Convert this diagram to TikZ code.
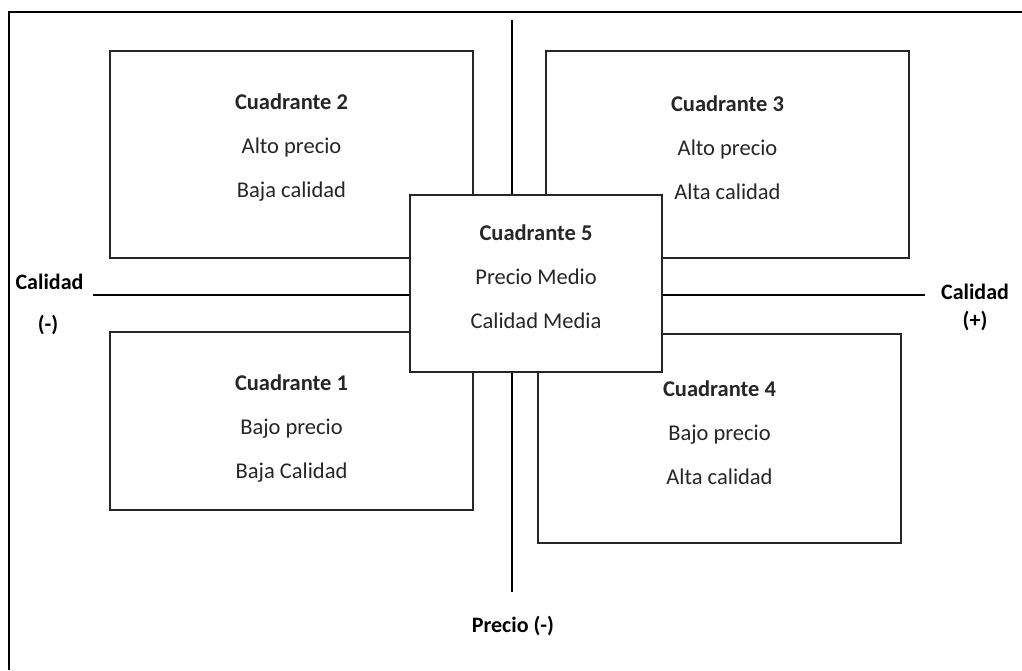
\documentclass[tikz,border=0pt]{standalone}
\usepackage{fontspec}
\setmainfont{Carlito}
\usetikzlibrary{positioning}

\begin{document}
\begin{tikzpicture}[x=1pt,y=-1pt,
    quad/.style={draw=black!85, line width=1.2pt, fill=white, inner sep=0pt},
    quadtext/.style={align=center, inner sep=0pt, text=black!85, font=\fontsize{22.5}{44}\selectfont},
    axisline/.style={line width=2.9pt},
    lbl/.style={font=\fontsize{22}{26}\selectfont\bfseries, inner sep=0pt}
]
\useasboundingbox (0,0) rectangle (1022,670);
% frame
\draw[line width=1.5pt] (1022,12) -- (9,12) -- (9,670);

% axes
\coordinate (ytop) at (512,20);
\coordinate (ybot) at (512,592);
\coordinate (xleft) at (93,295);
\coordinate (xright) at (925,295);
\draw[axisline] (ytop) -- (ybot);
\draw[axisline] (xleft) -- (xright);

% quadrants
\node[quad, minimum width=363pt, minimum height=207pt] (q2) at (291.5,154.5) {};
\node[quadtext] (t2) at (291.5,148) {\textbf{Cuadrante 2}\\Alto precio\\Baja calidad};
\node[quad, minimum width=363pt, minimum height=207pt] (q3) at (727.5,154.5) {};
\node[quadtext] (t3) at (727.5,148) {\textbf{Cuadrante 3}\\Alto precio\\Alta calidad};
\node[quad, minimum width=363pt, minimum height=178pt] (q1) at (291.5,421) {};
\node[quadtext] (t1) at (291.5,429) {\textbf{Cuadrante 1}\\Bajo precio\\Baja Calidad};
\node[quad, minimum width=363pt, minimum height=209pt] (q4) at (719.5,438.5) {};
\node[quadtext] (t4) at (719.5,433) {\textbf{Cuadrante 4}\\Bajo precio\\Alta calidad};
\node[quad, minimum width=252pt, minimum height=177pt] (q5) at (536,283.5) {};
\node[quadtext] (t5) at (536,277) {\textbf{Cuadrante 5}\\Precio Medio\\Calidad Media};

% axis labels
\node[lbl] (calneg) at (49.5,282) {Calidad};
\node[lbl] (neg) at (48,325) {(-)};
\node[lbl] (calpos) at (975,292) {Calidad};
\node[lbl] (pos) at (975,321) {(+)};
\node[lbl] (precio) at (513,626) {Precio (-)};
\end{tikzpicture}
\end{document}
